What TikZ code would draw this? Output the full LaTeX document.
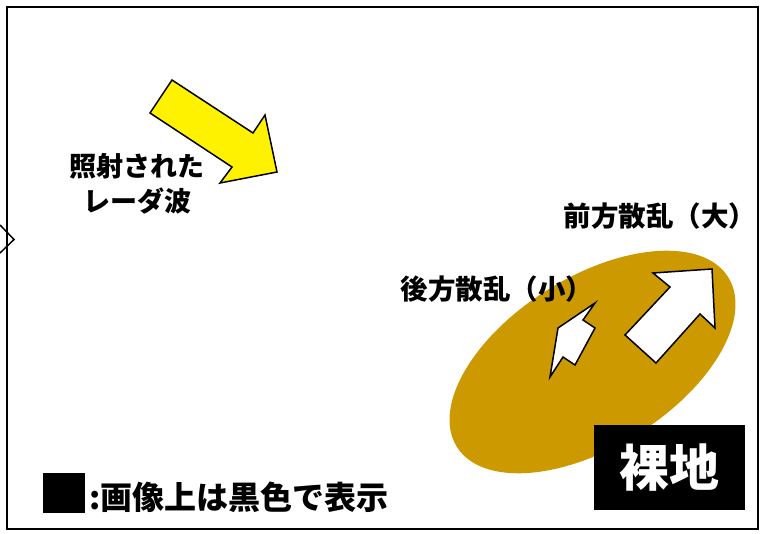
\documentclass[tikz,border=0pt]{standalone}
\usepackage{fontspec}
\setmainfont{Noto Sans CJK JP}
\usetikzlibrary{positioning}
\definecolor{soil}{RGB}{204,153,0}
\begin{document}
\begin{tikzpicture}[x=1pt,y=-1pt,font=\bfseries]
\tikzstyle{lbl}=[font=\fontsize{27}{35}\selectfont\bfseries,align=center,inner sep=0pt]
\tikzstyle{blk}=[draw=black,line width=1.5pt,line join=miter]
\useasboundingbox (0,0) rectangle (765,534);
\draw[line width=1.8pt] (7,7) rectangle (758,529);
\draw[line width=1.5pt] (0,225) -- (14,239.5) -- (0,253);
% bare soil patch
\fill[soil,rotate around={32:(592.5,362)}] (592.5,362) ellipse [x radius=160,y radius=85];
% incident wave
\draw[blk,fill=yellow] (172,80) -- (253,133) -- (265,115) -- (277,172) -- (220,183) -- (232,167) -- (150,113) -- cycle;
% forward and back scatter
\draw[blk,fill=white] (712,269) -- (653,273) -- (670,287) -- (625,335) -- (656,363) -- (700,314) -- (715,328) -- cycle;
\draw[blk,fill=white] (595,303) -- (583,320) -- (595,328) -- (575,365) -- (563,357) -- (550,377) -- (558,328) -- cycle;
\node[lbl] (radar) at (137,184) {照射された\\レーダ波};
\node[lbl,font=\fontsize{27.5}{35}\selectfont\bfseries] (fwd) at (660,216) {前方散乱（大）};
\node[lbl,font=\fontsize{27.5}{35}\selectfont\bfseries] (back) at (497,289) {後方散乱（小）};
\node[fill=black,text=white,minimum width=151pt,minimum height=85pt,font=\fontsize{50}{50}\selectfont\bfseries] (bare) at (669.5,467.5) {裸地};
\node[fill=black,minimum width=42pt,minimum height=40pt,inner sep=0pt] (key) at (64,493) {};
\node[lbl,font=\fontsize{32}{32}\selectfont\bfseries,anchor=west] (keytxt) at (89,497) {:画像上は黒色で表示};
\end{tikzpicture}
\end{document}
